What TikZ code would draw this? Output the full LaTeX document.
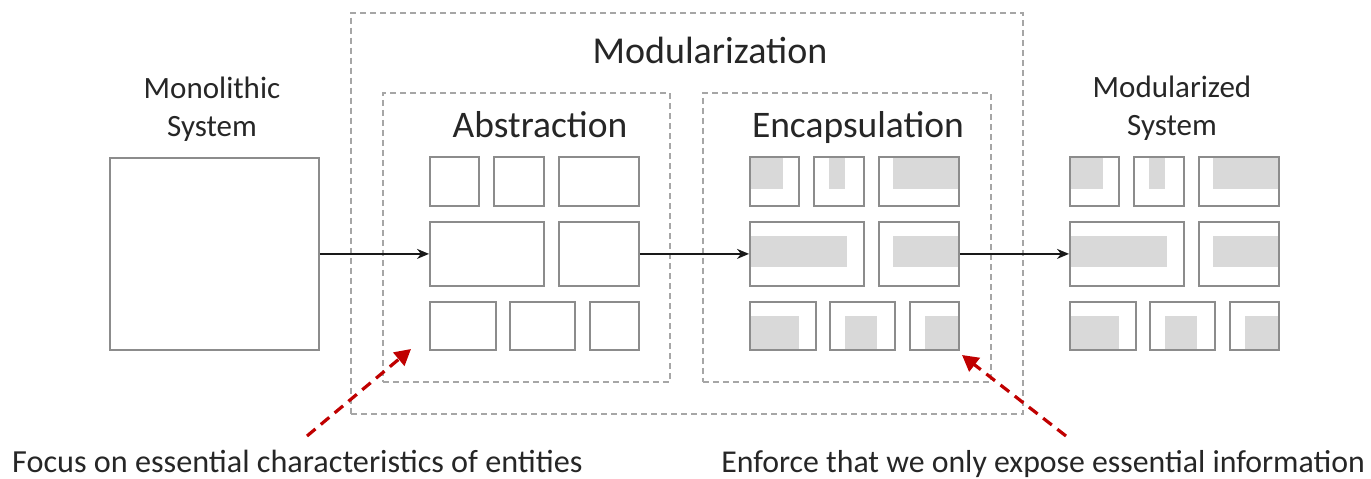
\documentclass[tikz,border=0pt]{standalone}
\usepackage{fontspec}
\setmainfont{Carlito}
\usetikzlibrary{arrows.meta}
\definecolor{boxgray}{HTML}{8C8C8C}
\definecolor{dashgray}{HTML}{A6A6A6}
\definecolor{fillgray}{HTML}{D9D9D9}
\definecolor{txt}{HTML}{262626}
\definecolor{redarrow}{HTML}{C00000}
\tikzset{
  sbox/.style={draw=boxgray, line width=1.8pt, inner sep=0pt, anchor=north west},
  greyblk/.style={fill=fillgray},
  dbox/.style={draw=dashgray, line width=1.5pt, dash pattern=on 6pt off 4pt, inner sep=0pt, anchor=north west},
  flow/.style={draw=black!90, line width=1.4pt, -{Stealth[length=12pt,width=10pt]}},
  redflow/.style={draw=redarrow, line width=3.2pt, dash pattern=on 11pt off 7pt, -{Triangle[length=16pt,width=17pt]}},
  lbl/.style={text=txt, inner sep=0pt},
}
\newcommand{\gridboxes}[1]{%
  \node[sbox, minimum width=49pt, minimum height=49pt] (#1a) at (749,156) {};
  \node[sbox, minimum width=50pt, minimum height=49pt] (#1b) at (813,156) {};
  \node[sbox, minimum width=80pt, minimum height=49pt] (#1c) at (878,156) {};
  \node[sbox, minimum width=114pt, minimum height=64pt] (#1d) at (749,221) {};
  \node[sbox, minimum width=80pt, minimum height=64pt] (#1e) at (878,221) {};
  \node[sbox, minimum width=66pt, minimum height=48pt] (#1f) at (749,301) {};
  \node[sbox, minimum width=65pt, minimum height=48pt] (#1g) at (829,301) {};
  \node[sbox, minimum width=49pt, minimum height=48pt] (#1h) at (909,301) {};
}
\newcommand{\gridfills}{%
  \fill[greyblk] (749,156) rectangle (783,189);
  \fill[greyblk] (829,156) rectangle (845,189);
  \fill[greyblk] (893,156) rectangle (958,189);
  \fill[greyblk] (749,236) rectangle (847,267);
  \fill[greyblk] (893,236) rectangle (958,267);
  \fill[greyblk] (749,316) rectangle (799,349);
  \fill[greyblk] (845,316) rectangle (877,349);
  \fill[greyblk] (925,316) rectangle (958,349);
}
\begin{document}
\begin{tikzpicture}[x=1pt, y=-1pt]
\useasboundingbox (0,0) rectangle (1371,479);

% dashed containers
\node[dbox, minimum width=672pt, minimum height=401pt] (outer) at (350,12) {};
\node[dbox, minimum width=287pt, minimum height=289pt] (absbox) at (382,92) {};
\node[dbox, minimum width=288pt, minimum height=289pt] (encbox) at (702,92) {};

% titles
\node[lbl, font=\fontsize{38}{44}\selectfont] (modt) at (710,50) {Modularization};
\node[lbl, font=\fontsize{37.5}{44}\selectfont, anchor=base] (abst) at (540,137) {Abstraction};
\node[lbl, font=\fontsize{37.5}{44}\selectfont, anchor=base] (enct) at (858,137) {Encapsulation};
\node[lbl, font=\fontsize{31}{38}\selectfont, align=center] (monot) at (212,109) {Monolithic\\System};
\node[lbl, font=\fontsize{31}{38}\selectfont, align=center] (modst) at (1172,108) {Modularized\\System};

% monolithic
\node[sbox, minimum width=209pt, minimum height=192pt] (mono) at (109,157) {};

% abstraction grid
\begin{scope}[xshift=-320pt]
  \gridboxes{ab}
\end{scope}
% encapsulation grid
\gridfills
\gridboxes{en}
% modularized grid
\begin{scope}[xshift=320pt]
  \gridfills
  \gridboxes{mo}
\end{scope}

% flow arrows
\draw[flow] (mono.east) -- (abd.west);
\draw[flow] (abe.east) -- (end.west);
\draw[flow] (ene.east) -- (mod.west);

% red arrows
\coordinate (ltail) at (307,436);
\coordinate (ltip) at (411,349);
\coordinate (rtail) at (1066,436);
\coordinate (rtip) at (962,355);
\draw[redflow] (ltail) -- (ltip);
\draw[redflow] (rtail) -- (rtip);

% bottom texts
\node[lbl, font=\fontsize{32.2}{38}\selectfont, anchor=base west] (lnote) at (12,472) {Focus on essential characteristics of entities};
\node[lbl, font=\fontsize{31.8}{38}\selectfont, anchor=base east] (rnote) at (1365,472) {Enforce that we only expose essential information};
\end{tikzpicture}
\end{document}
